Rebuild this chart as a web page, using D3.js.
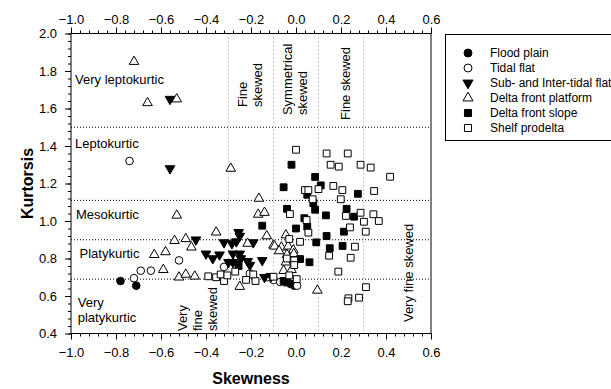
<!DOCTYPE html>
<html>
<head>
<meta charset="utf-8">
<script src="https://cdn.jsdelivr.net/npm/d3@7"></script>
<style>
  html, body { margin: 0; padding: 0; background: #fff; }
  svg { display: block; }
  text { font-family: "Liberation Sans", Arial, sans-serif; fill: #000; }
</style>
</head>
<body>
<svg id="chart" width="611" height="389"></svg>
<script>
// Skewness / kurtosis pairs for each depositional environment
const floodPlain = [[-0.78,0.68],[-0.71,0.655],[-0.025,0.665],[-0.008,0.655]];
const tidalFlat = [[-0.74,1.32],[-0.52,0.79],[-0.69,0.735],[-0.645,0.735],[-0.72,0.695],[-0.32,0.755],
  [-0.10,0.685],[-0.07,0.675],[0.005,0.655],[-0.205,0.72],[-0.125,0.70]];
const subInterTidal = [[-0.56,1.65],[-0.56,1.28],[-0.445,0.90],[-0.255,0.94],[-0.25,0.92],[-0.32,0.885],
  [-0.285,0.88],[-0.265,0.89],[-0.19,0.885],[-0.40,0.825],[-0.37,0.80],[-0.34,0.82],[-0.28,0.825],
  [-0.25,0.825],[-0.30,0.78],[-0.28,0.78],[-0.245,0.80],[-0.215,0.785],[-0.15,0.79],[-0.205,0.765],
  [-0.14,0.70],[-0.11,0.705],[-0.26,0.77]];
const deltaPlatform = [[-0.72,1.85],[-0.66,1.63],[-0.53,1.65],[-0.29,1.28],[-0.53,1.03],[-0.165,1.12],
  [-0.168,1.035],[-0.14,1.045],[-0.54,0.895],[-0.49,0.905],[-0.465,0.86],[-0.355,0.94],[-0.215,0.88],
  [-0.13,0.92],[-0.10,0.87],[-0.63,0.82],[-0.58,0.835],[-0.59,0.74],[-0.52,0.70],[-0.49,0.715],
  [-0.45,0.705],[-0.25,0.65],[-0.045,0.925],[-0.095,0.865],[-0.065,0.86],[-0.035,0.865],[-0.012,0.845],
  [-0.04,0.82],[-0.01,0.825],[-0.055,0.735],[-0.02,0.74],[0.095,0.63],[-0.075,0.84],[-0.045,0.78]];
const deltaSlope = [[-0.02,1.30],[0.085,1.235],[-0.055,1.18],[0.11,1.19],[0.275,1.145],[0.05,1.14],
  [0.077,1.095],[0.085,1.06],[-0.04,1.065],[0.133,1.03],[0.225,1.065],[0.258,1.023],[0.037,1.015],
  [0.00,0.96],[0.05,0.97],[0.213,0.943],[0.136,0.92],[0.09,0.886],[0.15,0.855],[0.207,0.867],
  [0.018,0.797],[0.06,0.78],[-0.15,0.975],[-0.255,0.76],[-0.055,0.68],[-0.04,0.672]];
const shelfProdelta = [[0.00,1.38],[0.136,1.36],[0.23,1.36],[0.154,1.30],[0.19,1.29],[0.287,1.30],
  [0.332,1.285],[0.418,1.236],[0.04,1.165],[0.055,1.165],[0.10,1.17],[0.166,1.187],[0.206,1.165],
  [0.347,1.16],[0.074,1.116],[0.199,1.116],[-0.027,1.037],[0.222,1.027],[0.287,1.044],[0.344,1.036],
  [0.368,1.0],[0.302,0.996],[0.047,1.005],[0.055,0.938],[0.24,0.966],[0.31,0.943],[0.018,0.889],
  [-0.03,0.904],[0.147,0.815],[0.262,0.863],[0.243,0.804],[0.188,0.73],[-0.041,0.80],[-0.008,0.79],
  [-0.008,0.765],[0.003,0.69],[-0.10,0.703],[0.311,0.647],[0.233,0.588],[0.23,0.572],[0.28,0.591],
  [-0.39,0.705],[-0.355,0.70],[-0.32,0.68],[-0.335,0.715],[-0.305,0.71],[-0.27,0.73],[-0.222,0.686],
  [-0.18,0.68],[-0.19,0.715],[-0.03,0.71]];

const seriesNames = ["Flood plain", "Tidal flat", "Sub- and Inter-tidal flat",
  "Delta front platform", "Delta front slope", "Shelf prodelta"];
const seriesData = [floodPlain, tidalFlat, subInterTidal, deltaPlatform, deltaSlope, shelfProdelta];

// Axis ranges and ticks
const xDomain = [-1.0, 0.6];
const yDomain = [0.4, 2.0];
const xTicks = [-1.0, -0.8, -0.6, -0.4, -0.2, 0.0, 0.2, 0.4, 0.6];
const yTicks = [0.4, 0.6, 0.8, 1.0, 1.2, 1.4, 1.6, 1.8, 2.0];

// Folk & Ward class boundaries
const kurtosisBounds = [0.69, 0.90, 1.11, 1.50];
const skewnessBounds = [-0.3, -0.1, 0.1, 0.3];

// class names: position is text start (skewness) and baseline (kurtosis)
const kurtosisLabels = [
  { lines: ["Very leptokurtic"], s: -0.982, k: 1.731 },
  { lines: ["Leptokurtic"], s: -0.982, k: 1.389 },
  { lines: ["Mesokurtic"], s: -0.978, k: 1.011 },
  { lines: ["Platykurtic"], s: -0.962, k: 0.803 },
  { lines: ["Very", "platykurtic"], s: -0.97, k: 0.541 }
];
// vertical class names: position is first line centre (skewness) and text start (kurtosis)
const skewnessLabels = [
  { lines: ["Very", "fine", "skewed"], s: -0.504, k: 0.413 },
  { lines: ["Fine", "skewed"], s: -0.237, k: 1.608 },
  { lines: ["Symmetrical", "skewed"], s: -0.04, k: 1.565 },
  { lines: ["Fine skewed"], s: 0.218, k: 1.539 },
  { lines: ["Very fine skewed"], s: 0.498, k: 0.461 }
];

const svg = d3.select("#chart");
const margin = { left: 71, right: 180, top: 33.5, bottom: 55.5 };
const W = 611, H = 389;

const x = d3.scaleLinear().domain(xDomain).range([margin.left, W - margin.right]);
const y = d3.scaleLinear().domain(yDomain).range([H - margin.bottom, margin.top]);
const [x0, x1] = x.range();
const [y0, y1] = [y(2.0), y(0.4)];

// class boundary lines
const g = svg.append("g");
g.selectAll("line.vb").data(skewnessBounds).join("line")
  .attr("x1", d => x(d)).attr("x2", d => x(d))
  .attr("y1", y0).attr("y2", y1)
  .attr("stroke", "#999").attr("stroke-width", 1).attr("stroke-dasharray", "1,3");
g.selectAll("line.hb").data(kurtosisBounds).join("line")
  .attr("x1", x0).attr("x2", x1)
  .attr("y1", d => y(d)).attr("y2", d => y(d))
  .attr("stroke", "#000").attr("stroke-width", 1).attr("stroke-dasharray", "1,2");

// region labels
const fs = 13;
kurtosisLabels.forEach(l => {
  l.lines.forEach((t, i) => {
    svg.append("text").attr("x", x(l.s)).attr("y", y(l.k) + i * 15)
      .attr("font-size", fs).text(t);
  });
});
skewnessLabels.forEach(l => {
  l.lines.forEach((t, i) => {
    svg.append("text")
      .attr("transform", `translate(${x(l.s) + i * 15},${y(l.k)}) rotate(-90)`)
      .attr("font-size", fs).attr("dy", "0.35em").text(t);
  });
});

// symbols
const symbolDefs = [
  { type: d3.symbolCircle, size: 46, fill: "#000", rot: 0 },
  { type: d3.symbolCircle, size: 46, fill: "#fff", rot: 0 },
  { type: d3.symbolTriangle, size: 40, fill: "#000", rot: 180 },
  { type: d3.symbolTriangle, size: 40, fill: "#fff", rot: 0 },
  { type: d3.symbolSquare, size: 46, fill: "#000", rot: 0 },
  { type: d3.symbolSquare, size: 46, fill: "#fff", rot: 0 }
];

const marks = svg.append("g");
seriesData.forEach((data, si) => {
  const def = symbolDefs[si];
  const path = d3.symbol().type(def.type).size(def.size)();
  marks.append("g").selectAll("path").data(data).join("path")
    .attr("d", path)
    .attr("transform", d => `translate(${x(d[0])},${y(d[1])}) rotate(${def.rot})`)
    .attr("fill", def.fill).attr("stroke", "#000").attr("stroke-width", 1);
});

// frame
svg.append("rect").attr("x", x0).attr("y", y0).attr("width", x1 - x0).attr("height", y1 - y0)
  .attr("fill", "none").attr("stroke", "#000").attr("stroke-width", 1);

// axes
function styleAxis(sel) {
  sel.select(".domain").remove();
  sel.selectAll("text").attr("font-size", 13).attr("font-family", '"Liberation Sans", Arial, sans-serif');
  sel.selectAll("line").attr("stroke", "#000");
}
const fmt = d3.format(".1f");
const xMinor = d3.range(-1.0, 0.6001, 0.04);
const yMinor = d3.range(0.4, 2.0001, 0.04);

svg.append("g").attr("transform", `translate(0,${y1})`)
  .call(d3.axisBottom(x).tickValues(xMinor).tickSize(3).tickFormat(""))
  .call(styleAxis);
svg.append("g").attr("transform", `translate(0,${y1})`)
  .call(d3.axisBottom(x).tickValues(xTicks).tickSize(6).tickPadding(8).tickFormat(fmt))
  .call(styleAxis);
svg.append("g").attr("transform", `translate(0,${y0})`)
  .call(d3.axisTop(x).tickValues(xMinor).tickSize(3).tickFormat(""))
  .call(styleAxis);
svg.append("g").attr("transform", `translate(0,${y0})`)
  .call(d3.axisTop(x).tickValues(xTicks).tickSize(6).tickPadding(4).tickFormat(fmt))
  .call(styleAxis);
svg.append("g").attr("transform", `translate(${x0},0)`)
  .call(d3.axisLeft(y).tickValues(yMinor).tickSize(3).tickFormat(""))
  .call(styleAxis);
svg.append("g").attr("transform", `translate(${x0},0)`)
  .call(d3.axisLeft(y).tickValues(yTicks).tickSize(6).tickPadding(8).tickFormat(fmt))
  .call(styleAxis);

// axis titles
svg.append("text").attr("x", (x0 + x1) / 2).attr("y", 384)
  .attr("text-anchor", "middle").attr("font-size", 16).attr("font-weight", "bold").text("Skewness");
svg.append("text").attr("transform", `translate(33,${(y0 + y1) / 2}) rotate(-90)`)
  .attr("text-anchor", "middle").attr("font-size", 16).attr("font-weight", "bold").text("Kurtorsis");

// legend
const lg = svg.append("g");
lg.append("rect").attr("x", 445.5).attr("y", 34.5).attr("width", 180).attr("height", 106)
  .attr("fill", "#fff").attr("stroke", "#000").attr("stroke-width", 1);
seriesNames.forEach((name, i) => {
  const yy = 53 + i * 15;
  const def = symbolDefs[i];
  lg.append("path").attr("d", d3.symbol().type(def.type).size(def.size + 4)())
    .attr("transform", `translate(468,${yy}) rotate(${def.rot})`)
    .attr("fill", def.fill).attr("stroke", "#000").attr("stroke-width", 1);
  lg.append("text").attr("x", 490).attr("y", yy).attr("dy", "0.35em")
    .attr("font-size", 12).text(name);
});
</script>
</body>
</html>
